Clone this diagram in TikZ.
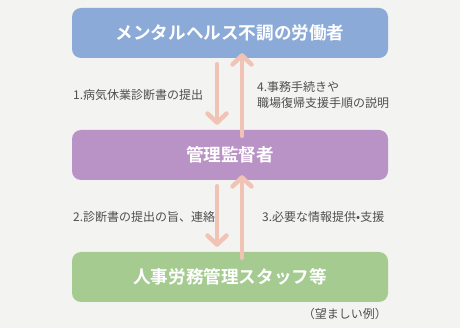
\documentclass[tikz,border=0pt]{standalone}
\usepackage{fontspec}
\setmainfont{Noto Sans CJK JP}
\newfontfamily\jpbold{Noto Sans CJK JP Bold}
\usetikzlibrary{arrows.meta,calc}
\definecolor{bg}{HTML}{F3F3F1}
\definecolor{bluebox}{HTML}{8BAAD7}
\definecolor{purplebox}{HTML}{BA93C6}
\definecolor{greenbox}{HTML}{A5CB91}
\definecolor{arrowc}{HTML}{F0C3B5}
\definecolor{txt}{HTML}{4F4F4F}
\begin{document}
\begin{tikzpicture}[x=1pt,y=-1pt,
  box/.style={rounded corners=9pt,minimum width=316pt,minimum height=50pt,inner sep=0pt,text=white,font=\jpbold\fontsize{17.6}{18}\selectfont},
  flow/.style={draw=arrowc,line width=4.5pt,line cap=round,-{Straight Barb[length=9pt,width=19pt,round]}},
  lbl/.style={text=txt,font=\fontsize{12}{16}\selectfont,inner sep=0pt}]
\fill[bg] (0,0) rectangle (460,328);
\useasboundingbox (0,0) rectangle (460,328);
\node[box,fill=bluebox] (worker) at (230,33) {メンタルヘルス不調の労働者};
\node[box,fill=purplebox] (mgr) at (230,155) {管理監督者};
\node[box,fill=greenbox] (hr) at (230,277) {人事労務管理スタッフ等};
\draw[flow] ([xshift=-13pt,yshift=-6pt]worker.south) -- ([xshift=-13pt,yshift=5pt]mgr.north);
\draw[flow] ([xshift=12pt,yshift=-6pt]mgr.north) -- ([xshift=12pt,yshift=5pt]worker.south);
\draw[flow] ([xshift=-13pt,yshift=-6pt]mgr.south) -- ([xshift=-13pt,yshift=5pt]hr.north);
\draw[flow] ([xshift=12pt,yshift=-6pt]hr.north) -- ([xshift=12pt,yshift=5pt]mgr.south);
\node[lbl,anchor=west] (l1) at (73,95) {1.病気休業診断書の提出};
\node[lbl,anchor=west,align=left] (l4) at (257,95) {4.事務手続きや\\職場復帰支援手順の説明};
\node[lbl,anchor=west] (l2) at (73,217) {2.診断書の提出の旨、連絡};
\node[lbl,anchor=west] (l3) at (262,217) {3.必要な情報提供•支援};
\node[lbl,anchor=east] (ex) at (387,314) {（望ましい例）};
\end{tikzpicture}
\end{document}
